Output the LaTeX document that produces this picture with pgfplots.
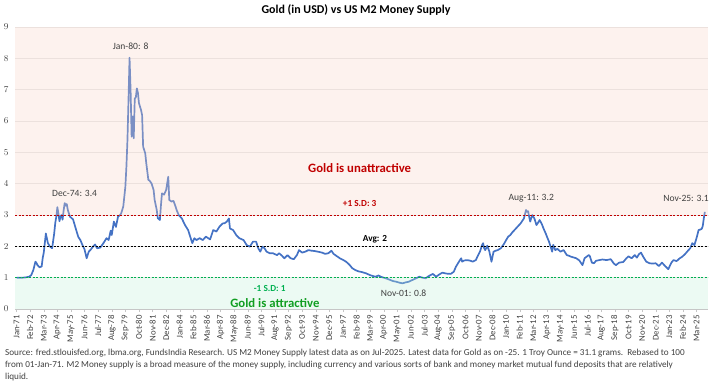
\documentclass[border=0pt]{standalone}
\usepackage{pgfplots}
\usepackage{pgfplotstable}
\pgfplotsset{compat=1.18}
\usepackage{fontspec}
\setmainfont{Carlito}
\definecolor{lineblue}{HTML}{4472C4}
\definecolor{pinkfill}{RGB}{248,212,198}
\definecolor{greenfill}{RGB}{192,238,215}
\definecolor{darkred}{HTML}{C00000}
\definecolor{sdgreen}{HTML}{00B050}
\definecolor{attgreen}{HTML}{119E22}
\definecolor{txtgray}{HTML}{404040}

\pgfplotstableread{
m v
0 1.00
3 1.00
6 1.00
9 1.01
12 1.03
14 1.08
16 1.24
18 1.51
19 1.47
20 1.40
22 1.33
24 1.36
25 1.63
26 1.80
28 2.41
29 2.25
30 2.10
32 1.99
34 1.94
36 2.42
37 2.75
38 2.95
39 3.25
40 3.05
41 2.80
42 2.95
43 3.00
44 2.85
45 3.15
46 3.38
47 3.30
48 3.35
49 3.16
51 2.95
54 2.86
57 2.52
59 2.30
61 2.20
63 2.04
65 1.90
67 1.62
69 1.83
71 1.90
73 1.99
75 2.06
77 1.94
80 1.96
83 2.10
86 2.26
88 2.20
90 2.50
91 2.36
93 2.79
95 2.62
97 2.95
99 3.00
100 3.05
102 3.27
104 3.90
105 4.54
106 5.39
107 6.67
108 8.02
109 6.99
110 5.50
111 6.14
112 5.45
113 6.72
114 6.75
115 7.04
116 6.90
117 6.57
119 6.35
120 6.19
121 5.18
123 4.97
124 4.65
126 4.12
127 4.10
129 4.01
131 3.80
132 3.48
134 3.16
135 2.90
137 2.84
138 3.30
139 3.69
141 3.65
143 3.80
145 4.22
146 3.48
148 3.43
150 3.45
152 3.27
153 3.16
155 3.00
158 2.89
161 2.68
164 2.52
166 2.31
168 2.10
170 2.26
172 2.20
175 2.26
178 2.20
181 2.31
185 2.22
188 2.52
191 2.47
194 2.63
197 2.73
199 2.74
201 2.79
203 2.89
204 2.57
207 2.52
210 2.36
213 2.26
217 2.20
220 2.04
223 1.99
226 2.15
229 2.15
231 1.94
233 1.83
235 1.99
237 1.94
239 1.83
242 1.78
245 1.78
249 1.72
251 1.78
254 1.69
256 1.62
259 1.72
262 1.62
265 1.59
268 1.72
270 1.88
273 1.80
276 1.83
279 1.88
282 1.86
285 1.85
288 1.83
292 1.80
295 1.76
298 1.78
301 1.86
303 1.76
306 1.69
309 1.62
312 1.57
315 1.51
318 1.42
321 1.30
324 1.24
327 1.20
330 1.18
334 1.14
338 1.08
343 1.03
346 1.07
349 1.02
353 0.98
357 0.93
360 0.89
363 0.87
366 0.84
369 0.82
372 0.85
375 0.87
378 0.92
382 0.98
385 1.03
388 1.00
391 0.98
394 1.05
398 1.12
401 1.03
404 1.10
407 1.16
411 1.13
415 1.12
418 1.19
420 1.35
422 1.46
425 1.62
426 1.51
428 1.55
431 1.56
434 1.54
436 1.51
439 1.56
441 1.70
443 1.83
445 2.04
446 2.10
447 1.94
448 1.88
450 2.02
452 1.83
454 1.51
456 1.83
458 1.86
460 1.88
463 1.94
466 2.08
468 2.20
470 2.31
472 2.36
474 2.45
476 2.52
479 2.63
481 2.70
482 2.74
485 2.89
487 3.16
488 3.10
489 3.12
490 2.95
491 2.79
493 3.00
495 2.89
497 2.68
499 2.78
500 2.84
502 2.72
504 2.55
506 2.40
507 2.31
509 2.15
511 1.94
512 1.83
513 2.05
515 1.88
517 1.92
520 1.83
523 1.88
526 1.72
528 1.70
530 1.67
535 1.62
538 1.55
540 1.45
541 1.40
543 1.62
545 1.67
547 1.72
548 1.69
550 1.48
552 1.46
554 1.54
557 1.56
560 1.58
564 1.56
568 1.59
571 1.45
573 1.40
576 1.48
580 1.50
583 1.62
585 1.68
588 1.62
591 1.72
593 1.64
595 1.75
597 1.80
599 1.67
602 1.51
605 1.46
608 1.45
611 1.46
614 1.37
617 1.48
620 1.37
623 1.27
626 1.48
628 1.56
631 1.53
634 1.62
636 1.66
639 1.75
641 1.83
644 1.94
646 2.10
648 2.04
650 2.26
652 2.52
654 2.54
655 2.56
656 2.65
657 2.90
658 3.10
}\gold

\begin{document}
\begin{tikzpicture}[x=1bp,y=1bp]
\useasboundingbox (0,0) rectangle (715,387);
\begin{axis}[
  at={(15bp,78bp)}, anchor=south west,
  width=693bp, height=282bp, scale only axis,
  xmin=-1.5, xmax=661, ymin=0, ymax=9,
  axis x line*=bottom, axis y line*=left,
  x axis line style={draw=gray!45},
  y axis line style={draw=none},
  ytick={0,1,...,9},
  ytick style={draw=none},
  ymajorgrids, grid style={draw=gray!18, line width=0.5pt},
  yticklabel style={font=\fontsize{9}{10}\selectfont\bfseries, text=txtgray},
  xtick={0,13,...,650},
  xticklabels={Jan-71,Feb-72,Mar-73,Apr-74,May-75,Jun-76,Jul-77,Aug-78,Sep-79,Oct-80,Nov-81,Dec-82,Jan-84,Feb-85,Mar-86,Apr-87,May-88,Jun-89,Jul-90,Aug-91,Sep-92,Oct-93,Nov-94,Dec-95,Jan-97,Feb-98,Mar-99,Apr-00,May-01,Jun-02,Jul-03,Aug-04,Sep-05,Oct-06,Nov-07,Dec-08,Jan-10,Feb-11,Mar-12,Apr-13,May-14,Jun-15,Jul-16,Aug-17,Sep-18,Oct-19,Nov-20,Dec-21,Jan-23,Feb-24,Mar-25},
  xticklabel style={rotate=90, anchor=east, font=\fontsize{8.8}{9}\selectfont, text=txtgray},
  xtick style={draw=gray!45}, tick align=outside, major tick length=3bp,
  clip=false,
]
\addplot[lineblue, line width=1.7pt, line join=round] table[x=m,y=v]{\gold};
\addplot[draw=none, fill=pinkfill, fill opacity=0.3] coordinates {(-1.5,3) (661,3) (661,9) (-1.5,9)} -- cycle;
\addplot[draw=none, fill=greenfill, fill opacity=0.3] coordinates {(-1.5,0) (661,0) (661,1) (-1.5,1)} -- cycle;
\addplot[darkred, line width=0.8pt, dash pattern=on 2bp off 1.5bp] coordinates {(-1.5,3) (661,3)};
\addplot[black, line width=0.8pt, dash pattern=on 2bp off 1.5bp] coordinates {(-1.5,2) (661,2)};
\addplot[sdgreen, line width=0.8pt, dash pattern=on 2bp off 1.5bp] coordinates {(-1.5,1) (661,1)};
\node[font=\fontsize{9.6}{10}\selectfont, text=txtgray] at (axis cs:109,8.39) {Jan-80: 8};
\node[font=\fontsize{9.6}{10}\selectfont, text=txtgray] at (axis cs:55.5,3.70) {Dec-74: 3.4};
\node[font=\fontsize{9.6}{10}\selectfont, text=txtgray] at (axis cs:492,3.54) {Aug-11: 3.2};
\node[font=\fontsize{9.6}{10}\selectfont, text=txtgray] at (axis cs:640,3.54) {Nov-25: 3.1};
\node[font=\fontsize{9.6}{10}\selectfont, text=txtgray] at (axis cs:370,0.51) {Nov-01: 0.8};
\node[font=\fontsize{12.8}{14}\selectfont\bfseries, text=darkred] at (axis cs:328,4.50) {Gold is unattractive};
\node[font=\fontsize{9.3}{10}\selectfont\bfseries, text=darkred] at (axis cs:328,3.38) {+1 S.D: 3};
\node[font=\fontsize{9.3}{10}\selectfont\bfseries, text=black] at (axis cs:342.6,2.23) {Avg: 2};
\node[font=\fontsize{9.3}{10}\selectfont\bfseries, text=sdgreen] at (axis cs:242,0.64) {-1 S.D: 1};
\node[font=\fontsize{12.8}{14}\selectfont\bfseries, text=attgreen] at (axis cs:247,0.19) {Gold is attractive};
\end{axis}
\node[font=\fontsize{12}{14}\selectfont\bfseries, text=black] at (356,376.5) {Gold (in USD) vs US M2 Money Supply};
\node[anchor=north west, inner sep=0pt, align=left, font=\fontsize{9.2}{12.5}\selectfont, text=txtgray] at (5,38.5) {Source: fred.stlouisfed.org, lbma.org, FundsIndia Research. US M2 Money Supply latest data as on Jul-2025. Latest data for Gold as on -25. 1 Troy Ounce = 31.1 grams.\ \ Rebased to 100\\from 01-Jan-71. M2 Money supply is a broad measure of the money supply, including currency and various sorts of bank and money market mutual fund deposits that are relatively\\liquid.};
\end{tikzpicture}
\end{document}
